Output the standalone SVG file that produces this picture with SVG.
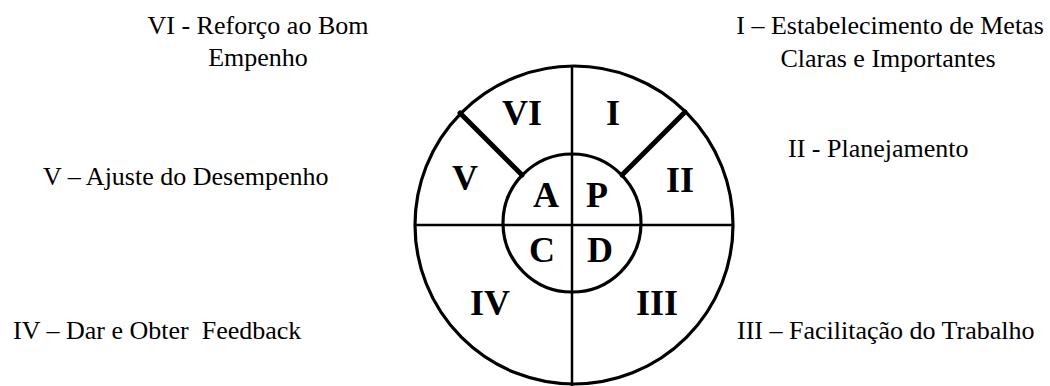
<svg xmlns="http://www.w3.org/2000/svg" width="1050" height="386" viewBox="0 0 1050 386">
<style>
.lbl{font-family:"Liberation Serif","Times New Roman",serif;font-size:26px;fill:#000;white-space:pre}
.num{font-family:"Liberation Serif","Times New Roman",serif;font-size:36px;font-weight:bold;fill:#000;text-anchor:middle}
.ring{fill:none;stroke:#000;stroke-width:3.2}
.axis{stroke:#000;stroke-width:2.5}
.diag{stroke:#000;stroke-width:5;stroke-linecap:round}
</style>
<rect width="1050" height="386" fill="#fff"/>
<g id="wheel">
<circle class="ring" cx="574" cy="225" r="159"/>
</g>
<g id="connectors">
<line class="axis" x1="572" y1="66" x2="572" y2="386"/>
<line class="axis" x1="415" y1="225" x2="733" y2="225"/>
<line class="diag" x1="522" y1="175" x2="460" y2="113"/>
<line class="diag" x1="622" y1="175" x2="685" y2="112"/>
</g>
<g id="core">
<circle class="ring" cx="572" cy="223" r="69"/>
</g>
<g id="seg-I"><text class="num" x="613" y="125">I</text></g>
<g id="seg-II"><text class="num" x="680" y="192">II</text></g>
<g id="seg-III"><text class="num" x="657" y="315">III</text></g>
<g id="seg-IV"><text class="num" x="490" y="315">IV</text></g>
<g id="seg-V"><text class="num" x="465" y="190">V</text></g>
<g id="seg-VI"><text class="num" x="522" y="125">VI</text></g>
<g id="core-P"><text class="num" x="597" y="207">P</text></g>
<g id="core-A"><text class="num" x="546" y="207">A</text></g>
<g id="core-C"><text class="num" x="542" y="262">C</text></g>
<g id="core-D"><text class="num" x="600" y="262">D</text></g>
<g id="label-VI"><text class="lbl" x="258" y="34" text-anchor="middle">VI - Reforço ao Bom</text><text class="lbl" x="258" y="66" text-anchor="middle">Empenho</text></g>
<g id="label-V"><text class="lbl" x="43" y="185">V – Ajuste do Desempenho</text></g>
<g id="label-IV"><text class="lbl" x="13" y="339">IV – Dar e Obter  Feedback</text></g>
<g id="label-I"><text class="lbl" x="890" y="34" text-anchor="middle">I – Estabelecimento de Metas</text><text class="lbl" x="888" y="67" text-anchor="middle">Claras e Importantes</text></g>
<g id="label-II"><text class="lbl" x="788" y="157">II - Planejamento</text></g>
<g id="label-III"><text class="lbl" x="737" y="339">III – Facilitação do Trabalho</text></g>
</svg>
